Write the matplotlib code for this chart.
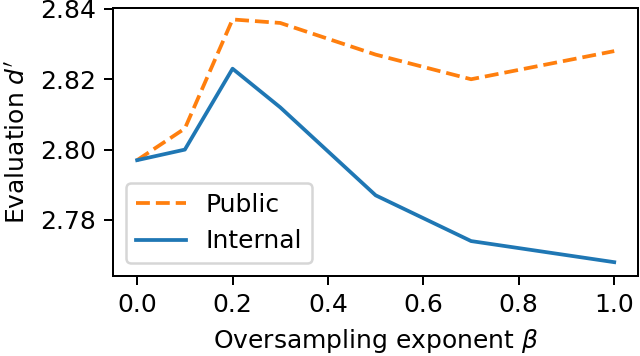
import matplotlib.pyplot as plt

beta = [0.0, 0.1, 0.2, 0.3, 0.5, 0.7, 1.0]
public = [2.797, 2.806, 2.837, 2.836, 2.827, 2.820, 2.828]
internal = [2.797, 2.800, 2.823, 2.812, 2.787, 2.774, 2.768]

# small figure rendered at high dpi, like the original
fig, ax = plt.subplots(figsize=(640 / 180, 356 / 180), dpi=180)
ax.plot(beta, public, linestyle='--', color='tab:orange', label='Public')
ax.plot(beta, internal, color='tab:blue', label='Internal')
ax.set_yticks([2.78, 2.80, 2.82, 2.84])
ax.set_ylim(2.7641, 2.8403)
ax.set_xlabel(r'Oversampling exponent $\beta$')
ax.set_ylabel(r"Evaluation $d'$")
ax.legend(loc='lower left')
fig.subplots_adjust(left=0.177, right=0.997, top=0.978, bottom=0.225)
fig.savefig('out.png')
